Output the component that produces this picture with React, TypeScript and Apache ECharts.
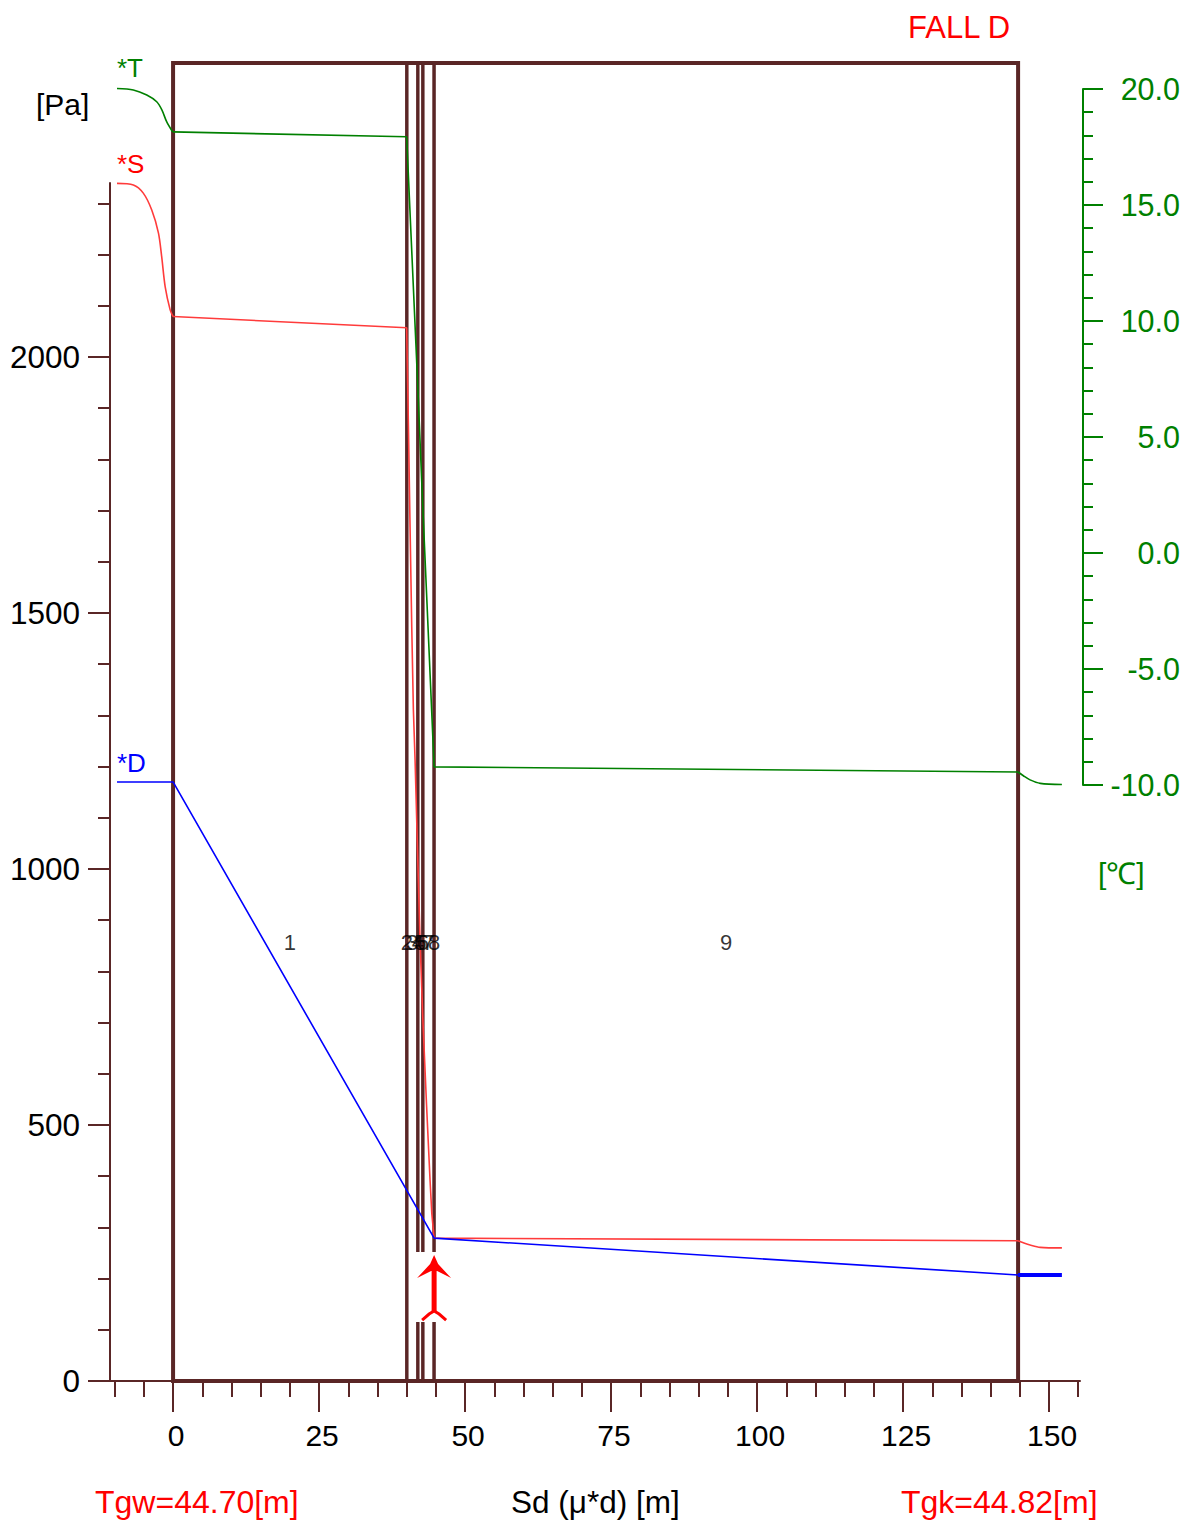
import React, { useEffect, useRef } from "react";
import * as echarts from "echarts";

const FONT = "'Liberation Sans', Arial, Helvetica, sans-serif";
const FRAME = "#5a2626";
const GREEN = "#008000";
const RED = "#ff0000";
const SRED = "#ff3b3b";
const BLUE = "#0000ff";

const X_MIN = -10.8;
const X_MAX = 155.3;
const PA_FRAME_MAX = 2574.2;
const PA_AXIS_MAX = 2339.8;
const T_MIN = -10;
const T_MAX = 20;

const xMajorTicks = [0, 25, 50, 75, 100, 125, 150];
const xMinorTicks = [-10, -5, 5, 10, 15, 20, 30, 35, 40, 45, 55, 60, 65, 70, 80, 85, 90, 95, 105, 110, 115, 120, 130, 135, 140, 145, 155];
const paMajorTicks = [0, 500, 1000, 1500, 2000];
const paMinorTicks = [100, 200, 300, 400, 600, 700, 800, 900, 1100, 1200, 1300, 1400, 1600, 1700, 1800, 1900, 2100, 2200, 2300];
const tMajorTicks = [-10, -5, 0, 5, 10, 15, 20];
const tMinorTicks = [-9, -8, -7, -6, -4, -3, -2, -1, 1, 2, 3, 4, 6, 7, 8, 9, 11, 12, 13, 14, 16, 17, 18, 19];

// layer boundaries (Sd, m)
const layerBounds = [0, 40.0, 40.05, 41.9, 41.92, 42.76, 42.78, 44.68, 44.7, 144.7];
const layerNames = ["1", "2", "3", "4", "5", "6", "7", "8", "9"];
const LAYER_LABEL_PA = 857;

// temperature [Sd, °C]
const temperatureIndoor = [
  [-9.6, 20.02], [-6.8, 19.96], [-4.5, 19.74], [-2.8, 19.45], [-1.9, 19.09], [-1.1, 18.59], [-0.2, 18.2], [0, 18.15],
];
const temperatureLayers = [
  [0, 18.15], [40.0, 17.94], [41.9, 7.2], [42.76, 2.0], [44.7, -9.22], [144.7, -9.44],
];
const temperatureOutdoor = [
  [144.7, -9.44], [145.6, -9.6], [146.75, -9.78], [148.5, -9.93], [152.2, -9.98],
];

// saturation pressure [Sd, Pa]
const saturationIndoor = [
  [-9.6, 2339], [-6.8, 2336], [-5.1, 2320], [-3.65, 2287], [-2.5, 2242], [-1.95, 2196], [-1.35, 2137], [-0.5, 2092], [0, 2079],
];
const saturationLayers = [
  [0, 2079], [40.0, 2057], [40.3, 1864], [40.58, 1668], [40.87, 1473], [41.15, 1311], [41.44, 1213], [41.9, 1020], [42.29, 861],
  [42.76, 710], [43.4, 540], [44.0, 393], [44.3, 328], [44.7, 279], [144.7, 274],
];
const saturationOutdoor = [
  [144.7, 274], [145.6, 270], [146.75, 265.6], [148.5, 261], [152.2, 260],
];

// vapour pressure [Sd, Pa]
const vapour = [
  [-9.6, 1170], [0, 1170], [44.7, 279], [144.7, 207],
];
const vapourTail = [
  [144.7, 207], [152.2, 207],
];

const CONDENSATION_SD = 44.7;
const ARROW_TIP_PA = 246;

const texts = [
  { t: "[Pa]", x: 36, y: 104, c: "#000", s: 30 },
  { t: "*T", x: 117, y: 68, c: GREEN, s: 26 },
  { t: "*S", x: 117, y: 164, c: RED, s: 26 },
  { t: "*D", x: 117, y: 763, c: BLUE, s: 26 },
  { t: "FALL D", x: 908, y: 27, c: RED, s: 31 },
  { t: "[℃]", x: 1098, y: 873, c: GREEN, s: 30 },
  { t: "Tgw=44.70[m]", x: 95, y: 1502, c: RED, s: 32 },
  { t: "Sd (μ*d) [m]", x: 511, y: 1502, c: "#000", s: 31.5 },
  { t: "Tgk=44.82[m]", x: 901, y: 1502, c: RED, s: 32 },
];

export default function App() {
  const ref = useRef<HTMLDivElement>(null);
  useEffect(() => {
    if (!ref.current) return;
    const chart = echarts.init(ref.current, undefined, { renderer: "svg" });
    const tickStyle = { color: FRAME, width: 2 };
    const layerCenters = layerBounds.slice(0, -1).map((b, i) => (b + layerBounds[i + 1]) / 2);
    const curve = (name: string, xi: number, yi: number, data: number[][], color: string, smooth: boolean, width = 1.6) => ({
      type: "line", name, xAxisIndex: xi, yAxisIndex: yi, data, symbol: "none", clip: false, z: 3,
      smooth: smooth ? 0.3 : false,
      lineStyle: { color, width },
    });
    const option: any = {
      animation: false,
      backgroundColor: "#fff",
      textStyle: { fontFamily: FONT },
      grid: [
        { left: 110, right: 106, top: 63, bottom: 139 },
        { left: 110, right: 106, top: 89, bottom: 735 },
        { left: 110, right: 106, top: 183, bottom: 139 },
      ],
      xAxis: [
        {
          gridIndex: 0, type: "value", position: "bottom", min: X_MIN, max: X_MAX,
          axisLine: { show: true, onZero: false, lineStyle: tickStyle },
          axisTick: { show: true, customValues: xMajorTicks, length: 31, lineStyle: tickStyle },
          axisLabel: {
            show: true, customValues: xMajorTicks, margin: 39, fontSize: 30, color: "#000", fontFamily: FONT,
            padding: [0, 0, 0, 6], formatter: (v: number) => String(v),
          },
          splitLine: { show: false },
        },
        {
          gridIndex: 0, type: "value", position: "bottom", min: X_MIN, max: X_MAX,
          axisLine: { show: false, onZero: false },
          axisTick: { show: true, customValues: xMinorTicks, length: 16, lineStyle: tickStyle },
          axisLabel: { show: false },
          splitLine: { show: false },
        },
        { gridIndex: 1, type: "value", min: X_MIN, max: X_MAX, show: false },
        { gridIndex: 2, type: "value", min: X_MIN, max: X_MAX, show: false },
      ],
      yAxis: [
        { gridIndex: 0, type: "value", min: 0, max: PA_FRAME_MAX, show: false },
        {
          gridIndex: 1, type: "value", position: "right", offset: 3, min: T_MIN, max: T_MAX,
          axisLine: { show: true, onZero: false, lineStyle: { color: GREEN, width: 2 } },
          axisTick: { show: true, customValues: tMajorTicks, length: 20, lineStyle: { color: GREEN, width: 2 } },
          axisLabel: {
            show: true, customValues: tMajorTicks, formatter: (v: number) => v.toFixed(1),
            align: "right", margin: 97, fontSize: 30.5, color: GREEN, fontFamily: FONT,
          },
          splitLine: { show: false },
        },
        {
          gridIndex: 1, type: "value", position: "right", offset: 3, min: T_MIN, max: T_MAX,
          axisLine: { show: false, onZero: false },
          axisTick: { show: true, customValues: tMinorTicks, length: 10, lineStyle: { color: GREEN, width: 2 } },
          axisLabel: { show: false },
          splitLine: { show: false },
        },
        {
          gridIndex: 2, type: "value", position: "left", min: 0, max: PA_AXIS_MAX,
          axisLine: { show: true, onZero: false, lineStyle: tickStyle },
          axisTick: { show: true, customValues: paMajorTicks, length: 22, lineStyle: tickStyle },
          axisLabel: {
            show: true, customValues: paMajorTicks, margin: 30, fontSize: 31.5, color: "#000", fontFamily: FONT,
            formatter: (v: number) => String(v),
          },
          splitLine: { show: false },
        },
        {
          gridIndex: 2, type: "value", position: "left", min: 0, max: PA_AXIS_MAX,
          axisLine: { show: false, onZero: false },
          axisTick: { show: true, customValues: paMinorTicks, length: 12, lineStyle: tickStyle },
          axisLabel: { show: false },
          splitLine: { show: false },
        },
      ],
      series: [
        {
          type: "custom", name: "frame", xAxisIndex: 0, yAxisIndex: 0, z: 1, silent: true,
          data: [[layerBounds[0], layerBounds[layerBounds.length - 1]]],
          renderItem: (params: any, api: any) => {
            const a = api.coord([api.value(0), PA_FRAME_MAX]);
            const b = api.coord([api.value(1), 0]);
            return {
              type: "rect",
              shape: { x: a[0], y: a[1], width: b[0] - a[0], height: b[1] - a[1] },
              style: { fill: "none", stroke: FRAME, lineWidth: 4 },
            };
          },
        },
        {
          type: "custom", name: "layers", xAxisIndex: 0, yAxisIndex: 0, z: 1, silent: true,
          data: layerBounds.slice(1, -1).map((b) => [b]),
          renderItem: (params: any, api: any) => {
            const x = api.value(0);
            const p0 = api.coord([x, 0]);
            const p1 = api.coord([x, PA_FRAME_MAX]);
            return {
              type: "line",
              shape: { x1: p0[0], y1: p0[1], x2: p1[0], y2: p1[1] },
              style: { stroke: FRAME, lineWidth: 3 },
            };
          },
        },
        curve("T-in", 2, 1, temperatureIndoor, GREEN, true),
        curve("T", 2, 1, temperatureLayers, GREEN, false),
        curve("T-out", 2, 1, temperatureOutdoor, GREEN, true),
        curve("S-in", 0, 0, saturationIndoor, SRED, true),
        curve("S", 0, 0, saturationLayers, SRED, false),
        curve("S-out", 0, 0, saturationOutdoor, SRED, true),
        curve("D", 0, 0, vapour, BLUE, false),
        curve("D-tail", 0, 0, vapourTail, BLUE, false, 4),
        {
          type: "scatter", name: "layerNames", xAxisIndex: 0, yAxisIndex: 0, z: 4, silent: true,
          symbolSize: 1, itemStyle: { color: "rgba(0,0,0,0)" },
          data: layerCenters.map((c, i) => ({ value: [c, LAYER_LABEL_PA], name: layerNames[i] })),
          label: { show: true, position: "inside", formatter: "{b}", fontSize: 22, color: "#000", fontFamily: FONT },
        },
        {
          type: "custom", name: "arrow", xAxisIndex: 0, yAxisIndex: 0, z: 5, silent: true,
          data: [[CONDENSATION_SD, ARROW_TIP_PA]],
          renderItem: (params: any, api: any) => {
            const p = api.coord([api.value(0), api.value(1)]);
            const x = p[0], y = p[1];
            return {
              type: "group",
              children: [
                { type: "rect", shape: { x: x - 20, y: y - 3, width: 40, height: 70 }, style: { fill: "#fff" } },
                {
                  type: "polygon",
                  shape: { points: [[x, y], [x + 4, y + 9], [x + 17, y + 23], [x + 3, y + 16], [x - 3, y + 16], [x - 17, y + 23], [x - 4, y + 9]] },
                  style: { fill: RED },
                },
                { type: "rect", shape: { x: x - 2.5, y: y + 13, width: 5, height: 44 }, style: { fill: RED } },
                {
                  type: "polyline",
                  shape: { points: [[x - 12, y + 65], [x - 5, y + 59], [x, y + 56], [x + 5, y + 59], [x + 12, y + 65]] },
                  style: { stroke: RED, lineWidth: 3, fill: "none" },
                },
              ],
            };
          },
        },
      ],
      graphic: texts.map((d) => ({
        type: "text",
        x: d.x,
        y: d.y,
        silent: true,
        style: { text: d.t, fill: d.c, fontSize: d.s, fontFamily: FONT, textAlign: "left", textVerticalAlign: "middle" },
      })),
    };
    chart.setOption(option);
    return () => chart.dispose();
  }, []);
  return (
    <div
      ref={ref}
      style={{ position: "absolute", left: 0, top: 0, width: 1186, height: 1520, background: "#fff" }}
    />
  );
}
